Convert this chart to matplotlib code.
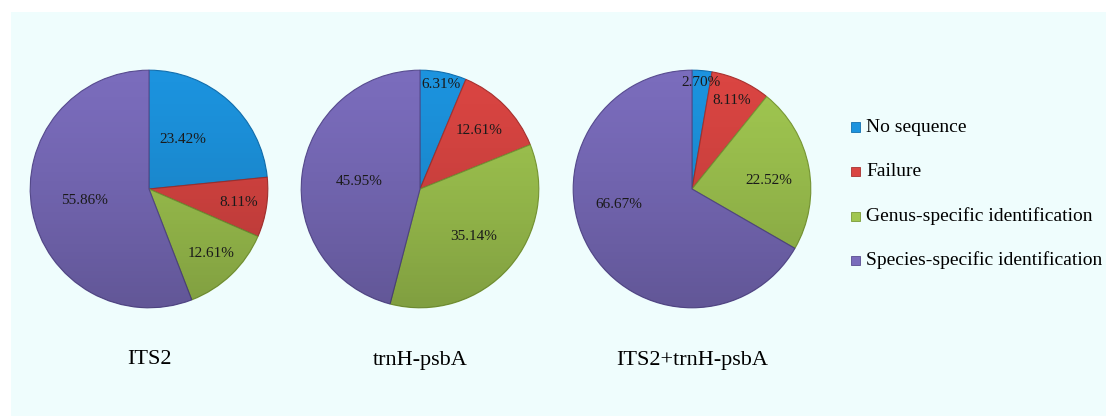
import numpy as np
import matplotlib
matplotlib.use('Agg')
import matplotlib.pyplot as plt
from matplotlib.patches import Rectangle, Circle

plt.rcParams['font.family'] = ['Liberation Serif', 'DejaVu Serif']

categories = ['No sequence', 'Failure', 'Genus-specific identification',
              'Species-specific identification']
markers = ['ITS2', 'trnH-psbA', 'ITS2+trnH-psbA']
its2 = [23.42, 8.11, 12.61, 55.86]
trnh = [6.31, 12.61, 35.14, 45.95]
combined = [2.70, 8.11, 22.52, 66.67]

colors = ['#1c93de', '#da4542', '#a0c650', '#7a6cbc']
edges = ['#136fae', '#a83230', '#7a9a36', '#584c90']

# radial distance and angular nudge (deg) of each percentage label, per pie
label_dist = [[0.50, 0.76, 0.75, 0.55],
              [0.90, 0.70, 0.60, 0.52],
              [0.90, 0.82, 0.65, 0.63]]
label_turn = [[8, 0, 0, 0],
              [0, 0, 0, 0],
              [0, 0, -4, -18]]

W, H = 1106, 416
fig = plt.figure(figsize=(W / 100, H / 100), dpi=100)
fig.patch.set_facecolor('white')
fig.patches.append(Rectangle((11 / W, 0), 1 - 11 / W, 404 / H,
                             transform=fig.transFigure, facecolor='#effdfd',
                             edgecolor='none', zorder=-1))

centers = [149, 420, 692]
radius = 120
cy = H - 189

# vertical shade (light at top, darker at bottom) for a soft rounded look
ramp = np.linspace(0, 1, 256).reshape(-1, 1)
shade = np.zeros((256, 1, 4))
shade[..., 3] = 0.2 * ramp ** 1.3

for cx, vals, name, dists, turns in zip(centers, [its2, trnh, combined], markers,
                                        label_dist, label_turn):
    ax = fig.add_axes([(cx - radius) / W, (cy - radius) / H, 2 * radius / W, 2 * radius / H])
    wedges, _ = ax.pie(vals, colors=colors, startangle=90, counterclock=False,
                       radius=1, wedgeprops=dict(linewidth=0.8))
    for w, ec in zip(wedges, edges):
        w.set_edgecolor(ec)
    # percentage labels
    start = 90.0
    total = sum(vals)
    for v, d, t in zip(vals, dists, turns):
        span = 360.0 * v / total
        mid = np.deg2rad(start - span / 2 + t)
        start -= span
        ax.text(d * np.cos(mid), d * np.sin(mid), '%.2f%%' % v, ha='center',
                va='center', fontsize=11, color='#1a1a1a', zorder=5)
    im = ax.imshow(shade, extent=(-1, 1, -1, 1), aspect='auto', zorder=3,
                   interpolation='bilinear')
    im.set_clip_path(Circle((0, 0), 1, transform=ax.transData))
    ax.set_xlim(-1.01, 1.01)
    ax.set_ylim(-1.01, 1.01)
    ax.set_aspect('equal')
    ax.axis('off')
    fig.text(cx / W, (H - 360) / H, name, ha='center', va='center', fontsize=16)

# legend
rows = [127, 171.5, 216, 260.5]
for cat, col, ec, ry in zip(categories, colors, edges, rows):
    fig.patches.append(Rectangle((851 / W, (H - ry - 4.5) / H), 9 / W, 9 / H,
                                 transform=fig.transFigure, facecolor=col,
                                 edgecolor=ec, linewidth=0.6, zorder=2))
    fig.text(866 / W, (H - ry) / H, cat, ha='left', va='center', fontsize=14)

fig.savefig('out.png', dpi=100)
